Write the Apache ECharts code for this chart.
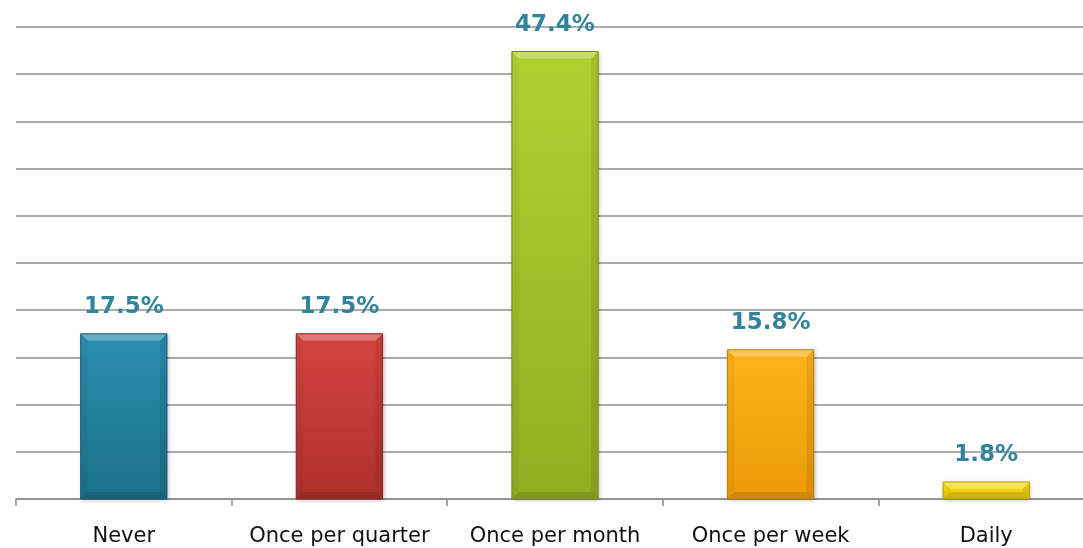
<!DOCTYPE html>
<html>
<head>
<meta charset="utf-8">
<script src="https://cdn.jsdelivr.net/npm/echarts@6/dist/echarts.min.js"></script>
<style>
  html, body { margin: 0; padding: 0; background: #fff; overflow: hidden; }
  #chart { width: 1094px; height: 548px; }
</style>
</head>
<body>
<div id="chart"></div>
<script>
// Survey responses: how often respondents do it
const categories = ['Never', 'Once per quarter', 'Once per month', 'Once per week', 'Daily'];
const shares = [17.5, 17.5, 47.4, 15.8, 1.8];
const topColors = ['#2a8fae', '#d44440', '#b3d032', '#fdb31a', '#f7df1e'];
const bottomColors = ['#1c7089', '#ae302c', '#93ac22', '#eb9a0a', '#e6c806'];
const edgeColors = ['#125a70', '#8a2220', '#738a16', '#c07c05', '#b89f04'];

const chart = echarts.init(document.getElementById('chart'));

function fillFor(i) {
  return new echarts.graphic.LinearGradient(0, 0, 0, 1, [
    { offset: 0, color: topColors[i] },
    { offset: 1, color: bottomColors[i] }
  ]);
}

// Bevel facets drawn over each bar
function renderBevel(params, api) {
  const idx = api.value(0);
  const val = api.value(1);
  const top = api.coord([idx, val]);
  const base = api.coord([idx, 0]);
  const w = api.size([1, 0])[0] * 0.4;
  const x0 = top[0] - w / 2, x1 = top[0] + w / 2;
  const y0 = top[1], yb = base[1];
  const b = Math.min(7, (yb - y0) / 2.5);
  return {
    type: 'group',
    children: [
      { type: 'polygon', shape: { points: [[x0, y0], [x1, y0], [x1 - b, y0 + b], [x0 + b, y0 + b]] },
        style: { fill: 'rgba(255,255,255,0.28)' } },
      { type: 'polygon', shape: { points: [[x0, y0], [x0 + b, y0 + b], [x0 + b, yb - b], [x0, yb]] },
        style: { fill: 'rgba(0,0,0,0.04)' } },
      { type: 'polygon', shape: { points: [[x1, y0], [x1, yb], [x1 - b, yb - b], [x1 - b, y0 + b]] },
        style: { fill: 'rgba(0,0,0,0.08)' } },
      { type: 'polygon', shape: { points: [[x0, yb], [x1, yb], [x1 - b, yb - b], [x0 + b, yb - b]] },
        style: { fill: 'rgba(0,0,0,0.12)' } },
      { type: 'rect', shape: { x: x0, y: y0, width: w, height: yb - y0 },
        style: { fill: null, stroke: edgeColors[idx], lineWidth: 1 } }
    ]
  };
}

chart.setOption({
  animation: false,
  backgroundColor: '#ffffff',
  grid: { left: 16, right: 0, top: 27, bottom: 49, containLabel: false },
  xAxis: {
    type: 'category',
    data: categories,
    axisLine: { lineStyle: { color: '#8c8c8c', width: 1.5 } },
    axisTick: { show: true, length: 7, lineStyle: { color: '#8c8c8c', width: 1.5 } },
    axisLabel: { interval: 0, color: '#111', fontFamily: 'DejaVu Sans', fontSize: 21, margin: 27 }
  },
  yAxis: {
    type: 'value',
    min: 0,
    max: 50,
    interval: 5,
    axisLabel: { show: false },
    axisLine: { show: false },
    axisTick: { show: false },
    splitLine: { lineStyle: { color: '#8f8f8f', width: 1.5 } }
  },
  series: [
    {
      type: 'bar',
      data: shares.map((v, i) => ({ value: v, itemStyle: { color: fillFor(i) } })),
      barWidth: '40%',
      itemStyle: {
        shadowBlur: 4,
        shadowColor: 'rgba(0,0,0,0.3)',
        shadowOffsetX: 1,
        shadowOffsetY: 1
      },
      label: {
        show: true,
        position: 'top',
        distance: 15,
        formatter: p => p.value.toFixed(1) + '%',
        color: '#31849b',
        fontFamily: 'DejaVu Sans',
        fontWeight: 'bold',
        fontSize: 23
      }
    },
    {
      type: 'custom',
      renderItem: renderBevel,
      data: shares.map((v, i) => [i, v]),
      z: 3,
      silent: true
    }
  ]
});
</script>
</body>
</html>
